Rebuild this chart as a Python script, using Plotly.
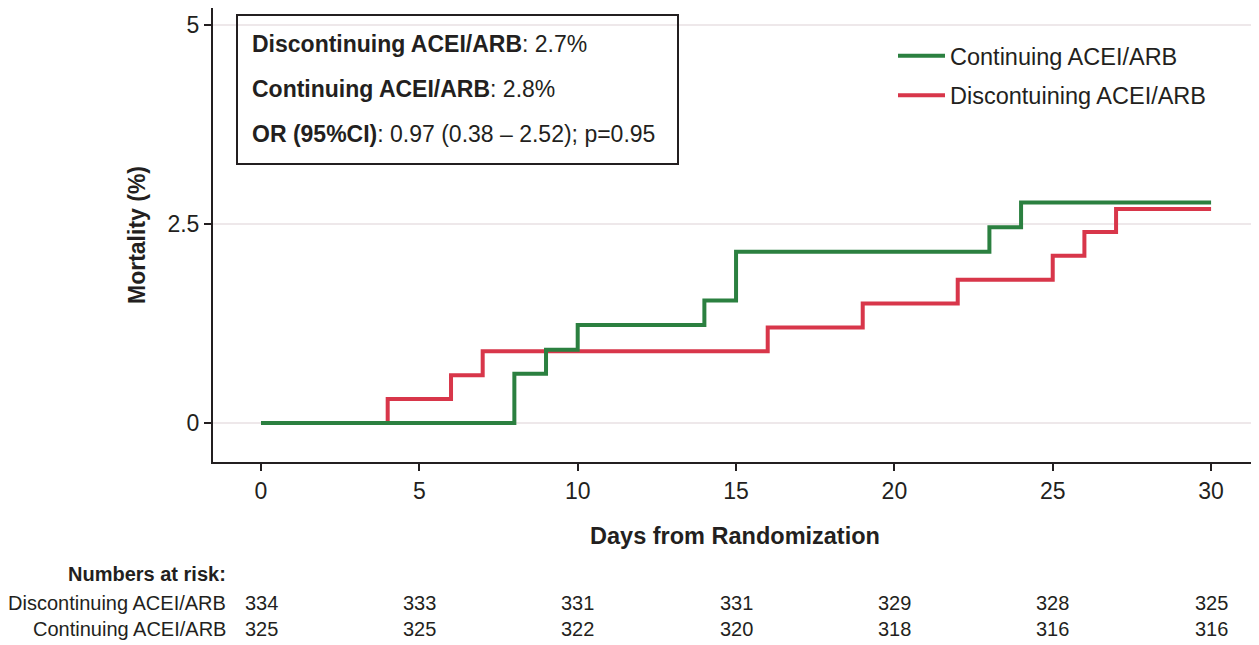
import plotly.graph_objects as go

# ---- data ----
green_days = [0, 8, 9, 10, 14, 15, 23, 24, 30]
green_mort = [0, 0.62, 0.92, 1.23, 1.54, 2.15, 2.46, 2.77, 2.77]
red_days = [0, 4, 6, 7, 16, 19, 22, 25, 26, 27, 30]
red_mort = [0, 0.30, 0.60, 0.90, 1.20, 1.50, 1.80, 2.10, 2.40, 2.69, 2.69]

risk_days = [0, 5, 10, 15, 20, 25, 30]
risk_disc = [334, 333, 331, 331, 329, 328, 325]
risk_cont = [325, 325, 322, 320, 318, 316, 316]

x_ticks = [0, 5, 10, 15, 20, 25, 30]
y_ticks = [0, 2.5, 5]
y_ticklabels = ["0", "2.5", "5"]

box_lines = [
    "<b>Discontinuing ACEI/ARB</b>: 2.7%",
    "<b>Continuing ACEI/ARB</b>: 2.8%",
    "<b>OR (95%CI)</b>: 0.97 (0.38 \u2013 2.52); p=0.95",
]

GREEN = "#2b8040"
RED = "#d8364a"
TXT = "#231f20"
FONT = "Liberation Sans, Arial, sans-serif"

fig = go.Figure()
fig.add_trace(go.Scatter(
    x=red_days, y=red_mort, mode="lines", line=dict(color=RED, width=4, shape="hv"),
    name="Discontuining ACEI/ARB", legendgroup="r", legendrank=2,
))
fig.add_trace(go.Scatter(
    x=green_days, y=green_mort, mode="lines", line=dict(color=GREEN, width=4, shape="hv"),
    name="Continuing ACEI/ARB", legendgroup="g", legendrank=1,
))

OFF = 8  # page offset of the plot div
W, H = 1259 - OFF, 645 - OFF
L, R, T, B = 213 - OFF, 2, 0, 183
PW, PH = W - L - R, H - T - B


def px(xp):
    return (xp - OFF - L) / PW


def py(yp):
    return 1 - (yp - OFF - T) / PH


# info box
fig.add_shape(type="rect", xref="paper", yref="paper",
              x0=px(237), x1=px(678), y0=py(164), y1=py(15),
              line=dict(color=TXT, width=2), fillcolor="rgba(0,0,0,0)")
for txt, yy in zip(box_lines, [44, 89, 134]):
    fig.add_annotation(xref="paper", yref="paper", x=px(250), y=py(yy),
                       xanchor="left", yanchor="middle", text=txt, showarrow=False,
                       font=dict(size=23, color=TXT, family=FONT))

# numbers at risk
fig.add_annotation(xref="paper", yref="paper", x=px(228), y=py(574), xanchor="right",
                   yanchor="middle", text="<b>Numbers at risk:</b>", showarrow=False,
                   font=dict(size=20, color=TXT, family=FONT))
for label, vals, yy in [("Discontinuing ACEI/ARB", risk_disc, 603),
                        ("Continuing ACEI/ARB", risk_cont, 629)]:
    fig.add_annotation(xref="paper", yref="paper", x=px(228), y=py(yy), xanchor="right",
                       yanchor="middle", text=label, showarrow=False,
                       font=dict(size=20, color=TXT, family=FONT))
    for d, v in zip(risk_days, vals):
        fig.add_annotation(xref="x", yref="paper", x=d, y=py(yy), xanchor="center",
                           yanchor="middle", text=str(v), showarrow=False,
                           font=dict(size=20, color=TXT, family=FONT))

fig.update_layout(
    width=W, height=H,
    margin=dict(l=L, r=R, t=T, b=B, pad=0),
    paper_bgcolor="white", plot_bgcolor="white",
    font=dict(family=FONT, color=TXT, size=23),
    showlegend=True,
    legend=dict(x=px(893), y=py(34), xanchor="left", yanchor="top",
                bgcolor="rgba(0,0,0,0)", borderwidth=0,
                font=dict(size=23.5, color=TXT, family=FONT),
                itemwidth=47, tracegroupgap=6, traceorder="grouped"),
    xaxis=dict(range=[-1.516, 31.45], tickvals=x_ticks, ticks="outside", ticklen=7,
               tickwidth=2, tickcolor=TXT, showline=True, linecolor=TXT, linewidth=2,
               showgrid=False, zeroline=False, tickfont=dict(size=23),
               title=dict(text="<b>Days from Randomization</b>", font=dict(size=23.5), standoff=25)),
    yaxis=dict(range=[-0.49, 5.214], tickvals=y_ticks, ticktext=y_ticklabels, ticks="outside",
               ticklen=7, tickwidth=2, tickcolor=TXT, showline=True, linecolor=TXT, linewidth=2,
               showgrid=True, gridcolor="#eee8ea", gridwidth=2, zeroline=False,
               tickfont=dict(size=23),
               title=dict(text="<b>Mortality (%)</b>", font=dict(size=23), standoff=15)),
)

fig.write_html("out.html")
